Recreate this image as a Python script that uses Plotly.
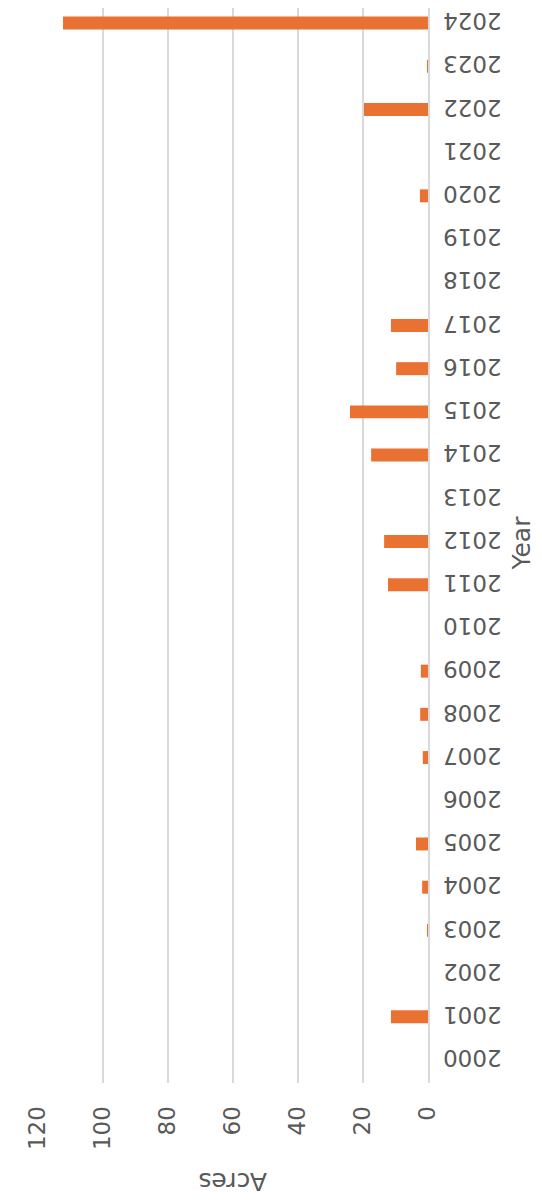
import plotly.graph_objects as go

years = [str(y) for y in range(2000, 2025)]
acres = [0, 11.4, 0, 0.3, 1.8, 3.7, 0, 1.6, 2.4, 2.2,
         0, 12.3, 13.5, 0, 17.5, 24, 9.8, 11.4, 0, 0,
         2.5, 0, 19.7, 0.3, 112.3]
x_ticks = [0, 20, 40, 60, 80, 100, 120]

BAR = "#E97132"
TXT = "#595959"
GRID = "#D9D9D9"
FONT = "DejaVu Sans"

Y_LO, Y_HI = -0.532, 24.347
LABEL_SHIFT = 0.12

fig = go.Figure()
fig.add_trace(go.Bar(x=acres, y=years, orientation="h",
                     marker=dict(color=BAR, line=dict(width=0))))
# invisible carrier for the year tick labels (upside-down axis labels)
fig.add_trace(go.Scatter(x=acres, y=list(range(len(years))), yaxis="y2",
                         mode="markers", marker=dict(opacity=0),
                         hoverinfo="skip", showlegend=False))

fig.update_layout(
    width=542, height=1201,
    margin=dict(l=30, r=122, t=0, b=126),
    plot_bgcolor="white", paper_bgcolor="white",
    bargap=0.7, showlegend=False,
    font=dict(family=FONT, color=TXT, size=23),
    xaxis=dict(range=[120, 0], tickvals=x_ticks, tickangle=-90,
               automargin=False,
               showgrid=True, gridcolor=GRID, gridwidth=1.5,
               zeroline=False, showline=False,
               ticks="outside", ticklen=13, tickcolor="rgba(0,0,0,0)",
               tickfont=dict(size=23, color=TXT, family=FONT)),
    yaxis=dict(type="category", categoryorder="array", categoryarray=years,
               range=[Y_LO, Y_HI], side="right", automargin=False,
               showticklabels=False,
               showgrid=False, zeroline=False, showline=True,
               linecolor=GRID, linewidth=1.5),
    yaxis2=dict(type="linear", overlaying="y", side="right",
                range=[Y_LO + LABEL_SHIFT, Y_HI + LABEL_SHIFT],
                tickvals=list(range(len(years))), ticktext=years,
                tickangle=180, automargin=False, ticklabeloverflow="allow",
                showgrid=False, zeroline=False, showline=False,
                ticks="outside", ticklen=68, tickcolor="rgba(0,0,0,0)",
                tickfont=dict(size=23, color=TXT, family=FONT)),
)

plot_left, plot_right = 30, 542 - 122
plot_top, plot_bottom = 0, 1201 - 126
pw, ph = plot_right - plot_left, plot_bottom - plot_top
def px_to_paper(px, py):
    return (px - plot_left) / pw, (plot_bottom - py) / ph

ax, ay = px_to_paper(225, 1190)
yx, yy = px_to_paper(529, 535)
fig.add_annotation(text="Acres", x=ax, y=ay, xref="paper", yref="paper",
                   showarrow=False, textangle=180,
                   font=dict(size=25, color=TXT, family=FONT))
fig.add_annotation(text="Year", x=yx, y=yy, xref="paper", yref="paper",
                   showarrow=False, textangle=-90,
                   font=dict(size=25, color=TXT, family=FONT))

fig.write_html("out.html")
